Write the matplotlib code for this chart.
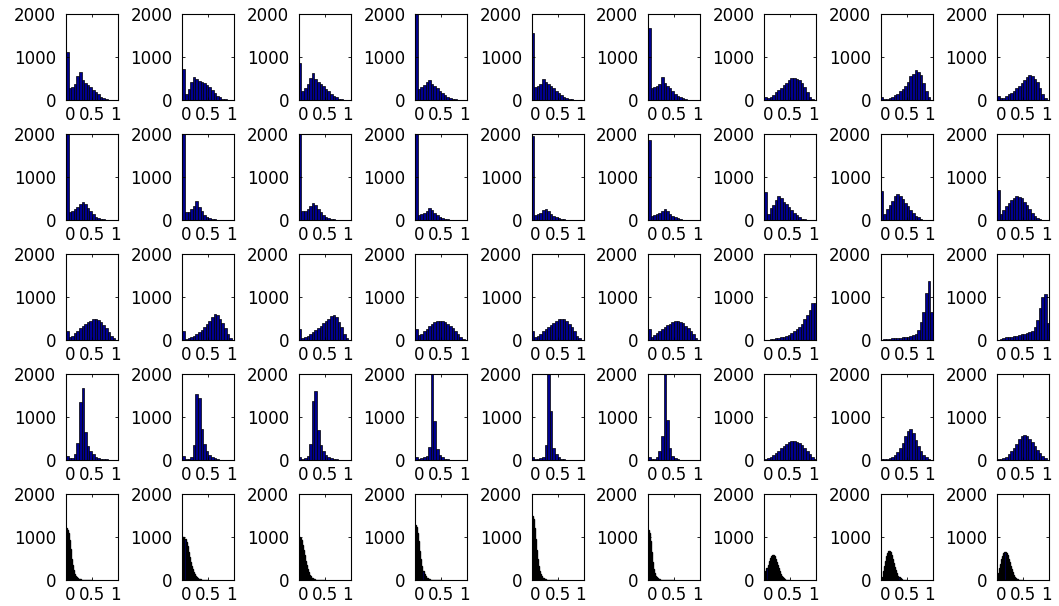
import numpy as np
import matplotlib.pyplot as plt
import matplotlib.transforms as mtransforms

# counts per bin, 20 bins over [0, 1] for rows 1-4
row1_counts = [
    [1120, 270, 300, 380, 560, 660, 470, 400, 350, 300, 240, 180, 130, 80, 50, 25, 10, 5, 2, 0],
    [720, 150, 250, 420, 540, 500, 450, 420, 400, 350, 300, 230, 160, 100, 60, 30, 15, 5, 0, 0],
    [850, 200, 280, 380, 520, 630, 500, 420, 370, 320, 260, 200, 150, 100, 60, 30, 15, 5, 2, 0],
    [2400, 250, 300, 350, 430, 470, 380, 330, 280, 220, 170, 120, 80, 50, 30, 15, 8, 3, 1, 0],
    [1550, 300, 330, 380, 500, 430, 380, 320, 270, 220, 170, 120, 80, 50, 30, 15, 8, 3, 1, 0],
    [1670, 280, 300, 330, 380, 530, 400, 330, 270, 200, 150, 100, 70, 40, 20, 10, 5, 2, 0, 0],
    [80, 50, 80, 120, 180, 240, 290, 340, 400, 460, 510, 520, 500, 470, 390, 300, 190, 80, 20, 0],
    [60, 20, 20, 40, 80, 110, 150, 200, 260, 330, 430, 560, 610, 700, 640, 580, 400, 200, 60, 10],
    [90, 40, 50, 100, 140, 170, 210, 270, 330, 390, 470, 530, 580, 550, 480, 420, 280, 130, 40, 5],
]
row2_counts = [
    [2400, 180, 200, 250, 310, 380, 430, 380, 280, 200, 130, 80, 50, 30, 20, 10, 5, 2, 1, 0],
    [2400, 180, 190, 260, 320, 440, 300, 200, 120, 80, 50, 30, 20, 10, 5, 2, 1, 0, 0, 0],
    [2400, 200, 220, 260, 330, 400, 350, 260, 180, 120, 80, 50, 30, 20, 10, 5, 2, 1, 0, 0],
    [2400, 120, 140, 170, 220, 270, 230, 170, 120, 80, 50, 30, 20, 10, 5, 2, 1, 0, 0, 0],
    [1950, 120, 140, 170, 230, 260, 200, 140, 90, 60, 40, 25, 15, 8, 4, 2, 1, 0, 0, 0],
    [1850, 100, 120, 140, 160, 200, 250, 200, 150, 100, 70, 40, 20, 10, 5, 2, 1, 0, 0, 0],
    [650, 150, 280, 350, 470, 550, 500, 420, 370, 300, 240, 170, 110, 60, 30, 15, 5, 2, 0, 0],
    [680, 150, 250, 350, 450, 550, 600, 560, 480, 400, 320, 240, 170, 100, 60, 30, 10, 3, 0, 0],
    [700, 150, 230, 320, 400, 470, 520, 550, 540, 500, 420, 340, 250, 160, 90, 40, 15, 5, 0, 0],
]
row3_counts = [
    [220, 70, 100, 170, 200, 270, 330, 370, 430, 450, 480, 500, 470, 420, 340, 270, 180, 100, 40, 10],
    [200, 30, 40, 60, 90, 130, 180, 240, 300, 370, 450, 530, 600, 580, 500, 400, 270, 130, 50, 10],
    [250, 50, 70, 100, 140, 180, 230, 280, 330, 390, 440, 500, 560, 580, 540, 430, 300, 150, 50, 10],
    [250, 120, 150, 200, 260, 320, 370, 410, 440, 450, 440, 420, 380, 330, 270, 200, 130, 70, 25, 5],
    [200, 70, 100, 150, 200, 250, 300, 350, 400, 450, 480, 500, 490, 450, 380, 300, 200, 100, 40, 10],
    [250, 60, 120, 170, 220, 260, 300, 350, 380, 420, 440, 450, 430, 390, 330, 290, 220, 130, 50, 10],
    [5, 10, 20, 30, 40, 50, 60, 80, 100, 120, 160, 200, 250, 300, 380, 480, 570, 700, 850, 860],
    [10, 15, 20, 30, 35, 40, 45, 55, 60, 70, 80, 95, 120, 150, 240, 430, 660, 1090, 1380, 660],
    [10, 30, 50, 60, 70, 80, 90, 100, 110, 130, 150, 170, 190, 210, 300, 470, 740, 1010, 1080, 400],
]
row4_counts = [
    [90, 40, 50, 130, 400, 1350, 1680, 650, 320, 200, 130, 80, 50, 30, 20, 20, 10, 5, 0, 0],
    [90, 30, 30, 80, 350, 1530, 1450, 720, 370, 200, 110, 60, 40, 20, 10, 5, 0, 0, 0, 0],
    [80, 30, 40, 100, 380, 1380, 1600, 700, 350, 200, 120, 70, 40, 25, 15, 10, 5, 0, 0, 0],
    [80, 30, 40, 60, 100, 300, 2400, 900, 250, 120, 60, 30, 15, 10, 5, 2, 0, 0, 0, 0],
    [80, 30, 30, 50, 80, 350, 2400, 1130, 280, 150, 60, 30, 15, 10, 5, 2, 0, 0, 0, 0],
    [80, 20, 30, 60, 220, 560, 2400, 920, 270, 100, 50, 25, 10, 5, 2, 0, 0, 0, 0, 0],
    [30, 50, 80, 120, 170, 220, 280, 330, 380, 420, 450, 450, 430, 400, 350, 290, 220, 150, 80, 30],
    [20, 20, 30, 50, 80, 120, 180, 270, 400, 560, 680, 720, 620, 470, 320, 200, 110, 60, 30, 10],
    [30, 30, 50, 80, 130, 200, 280, 380, 480, 560, 580, 560, 500, 420, 330, 240, 160, 90, 40, 10],
]
# row 5: fine bins of width 0.02, only the part [0, 0.5] holds counts
row5_counts = [
    [1200, 1170, 1100, 920, 720, 500, 340, 230, 150, 95, 60, 38, 25, 15, 10, 6, 4, 2, 1, 1, 0, 0, 0, 0, 0],
    [1000, 990, 960, 880, 780, 660, 540, 430, 330, 250, 185, 135, 95, 65, 45, 30, 20, 13, 8, 5, 3, 2, 1, 0, 0],
    [1000, 970, 920, 820, 700, 570, 450, 340, 250, 180, 125, 85, 58, 38, 25, 16, 10, 6, 4, 2, 1, 1, 0, 0, 0],
    [1280, 1230, 1100, 900, 680, 480, 330, 220, 140, 90, 55, 35, 22, 14, 9, 5, 3, 2, 1, 0, 0, 0, 0, 0, 0],
    [1500, 1420, 1200, 950, 700, 480, 320, 210, 135, 85, 55, 35, 22, 14, 9, 5, 3, 2, 1, 0, 0, 0, 0, 0, 0],
    [1170, 1100, 900, 650, 420, 260, 160, 100, 60, 38, 24, 15, 10, 6, 4, 2, 1, 1, 0, 0, 0, 0, 0, 0, 0],
    [120, 200, 280, 360, 440, 510, 560, 580, 580, 550, 490, 420, 350, 270, 200, 140, 95, 60, 35, 20, 10, 5, 2, 1, 0],
    [20, 80, 200, 320, 440, 550, 630, 670, 680, 640, 570, 490, 400, 310, 230, 160, 100, 60, 35, 18, 9, 4, 2, 1, 0],
    [80, 170, 270, 380, 480, 560, 620, 640, 620, 570, 500, 420, 330, 250, 180, 120, 80, 50, 28, 15, 7, 3, 1, 0, 0],
]

rows = [(row1_counts, 0.05), (row2_counts, 0.05), (row3_counts, 0.05),
        (row4_counts, 0.05), (row5_counts, 0.02)]

W, H = 1059, 606
fig = plt.figure(figsize=(W / 100, H / 100), dpi=100)
plt.rcParams['font.family'] = 'DejaVu Sans'

for r, (row, bw) in enumerate(rows):
    for c, counts in enumerate(row):
        left = (66 + 116.4 * c) / W
        bottom = 1 - (100 + 120 * r) / H
        ax = fig.add_axes([left, bottom, 52 / W, 86 / H])
        centers = (np.arange(len(counts)) + 0.5) * bw
        lw = 0.5 if bw > 0.03 else 1.0
        ax.bar(centers, counts, width=bw, color='#00008F',
               edgecolor='black', linewidth=lw)
        ax.set_xlim(0, 1)
        ax.set_ylim(0, 2000)
        ax.set_xticks([0, 0.5, 1])
        ax.set_xticklabels(['0', '0.5', '1'])
        ax.set_yticks([0, 1000, 2000])
        ax.tick_params(direction='in', top=True, right=True, length=2,
                       width=0.6, labelsize=12)
        ax.tick_params(axis='y', pad=7)
        ax.tick_params(axis='x', pad=4)
        # MATLAB squeezes the outer x labels inward a bit
        xl = ax.get_xticklabels()
        xl[0].set_transform(xl[0].get_transform() +
                            mtransforms.ScaledTranslation(4 / 100, 0, fig.dpi_scale_trans))
        xl[2].set_transform(xl[2].get_transform() +
                            mtransforms.ScaledTranslation(-3 / 100, 0, fig.dpi_scale_trans))
        for s in ax.spines.values():
            s.set_linewidth(0.8)

fig.savefig('out.png', dpi=100)
